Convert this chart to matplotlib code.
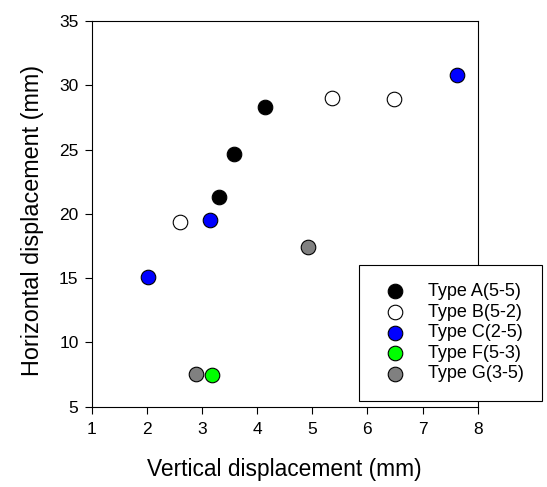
import numpy as np
import matplotlib.pyplot as plt

plt.rcParams['font.family'] = ['Liberation Sans', 'DejaVu Sans']

# values
a_x = [3.30, 3.58, 4.14]
a_y = [21.34, 24.68, 28.31]
b_x = [2.60, 5.35, 6.49]
b_y = [19.39, 29.04, 28.91]
c_x = [2.02, 3.15, 7.62]
c_y = [15.06, 19.50, 30.83]
f_x = [3.18]
f_y = [7.47]
g_x = [2.89, 4.93]
g_y = [7.55, 17.40]

series = [
    (a_x, a_y, 'black', 'Type A(5-5)'),
    (b_x, b_y, 'white', 'Type B(5-2)'),
    (c_x, c_y, 'blue', 'Type C(2-5)'),
    (f_x, f_y, '#00ff00', 'Type F(5-3)'),
    (g_x, g_y, 'grey', 'Type G(3-5)'),
]

fig = plt.figure(figsize=(5.47, 4.87), dpi=100)
ax = fig.add_axes([91.7/547, 1 - 406.7/487, (477.7 - 91.7)/547, (406.7 - 21)/487])

for x, y, col, lab in series:
    ax.scatter(x, y, s=110, c=col, edgecolors='black', linewidths=0.8,
               label=lab, zorder=3)

ax.set_xlim(1, 8)
ax.set_ylim(5, 35)
ax.set_xticks(np.arange(1, 9, 1))
ax.set_yticks(np.arange(5, 36, 5))
ax.tick_params(direction='out', length=5, labelsize=12.5, top=False, right=False)
ax.tick_params(axis='x', pad=6)
ax.tick_params(axis='y', pad=4.5)
ax.set_xlabel('Vertical displacement (mm)', fontsize=16.4, labelpad=15)
ax.set_ylabel('Horizontal displacement (mm)', fontsize=16.8, labelpad=11)
ax.yaxis.label.set_y(0.482)

leg = ax.legend(loc='upper left', bbox_to_anchor=(359.3/547, 1 - 265/487),
                bbox_transform=fig.transFigure, fontsize=13, frameon=True,
                fancybox=False, edgecolor='black', framealpha=1,
                handletextpad=0.8, labelspacing=0.2, borderpad=1.0,
                borderaxespad=0, handlelength=2.0)
leg.get_frame().set_linewidth(0.8)

fig.savefig('out.png', dpi=100)
